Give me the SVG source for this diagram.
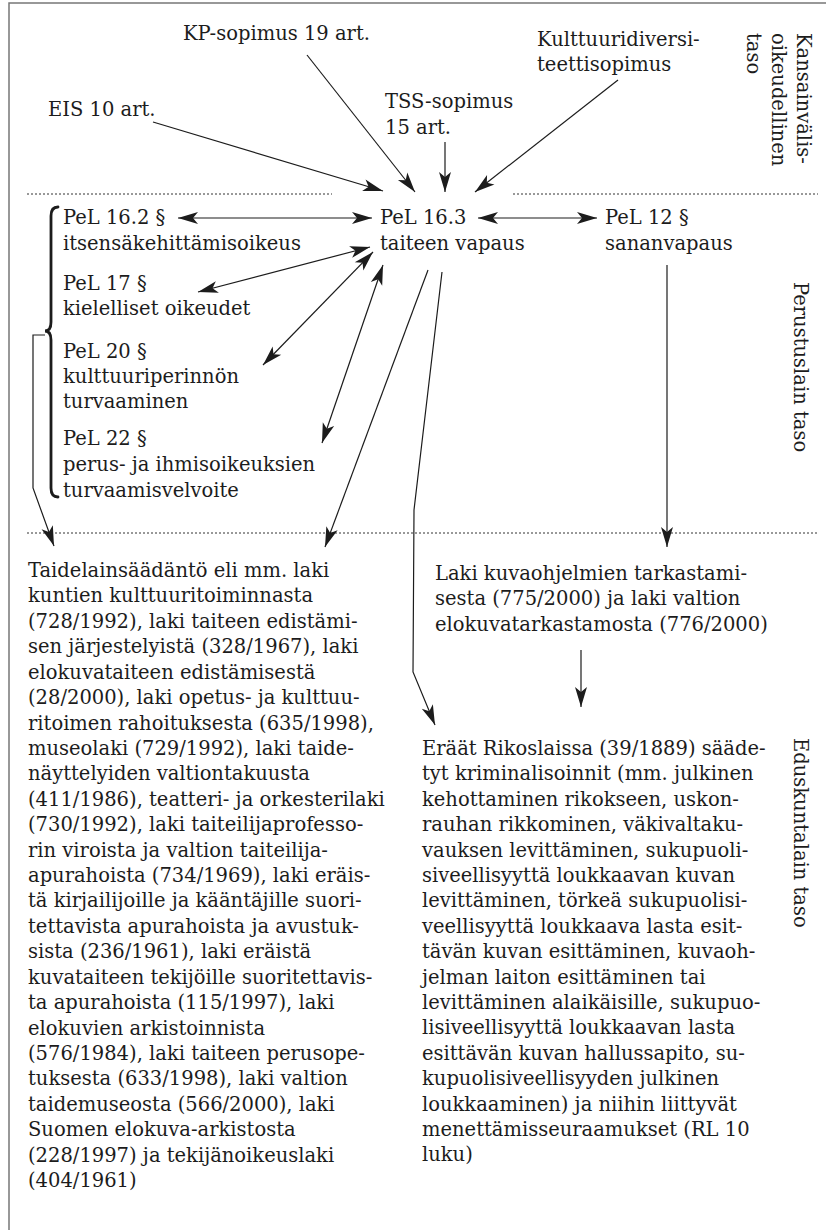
<svg xmlns="http://www.w3.org/2000/svg" width="826" height="1230" viewBox="0 0 826 1230">
<style>
  text { font-family: "DejaVu Serif", "Liberation Serif", serif; font-size: 19.5px; fill: #1c1c1c; }
  .ln { fill: none; stroke: #1c1c1c; stroke-width: 1.2; }
  .dot { fill: none; stroke: #333; stroke-width: 1; stroke-dasharray: 2 2; }
  .frame { fill: none; stroke: #777; stroke-width: 1.5; }
  .brace { fill: none; stroke: #1c1c1c; stroke-width: 2.8; stroke-linecap: round; }
</style>
<defs>
  <marker id="ah" viewBox="-1 -7 22 14" markerWidth="22" markerHeight="14" refX="20" refY="0" orient="auto-start-reverse" markerUnits="userSpaceOnUse">
    <path d="M0,-6 L20,0 L0,6 L5,0 z" fill="#1c1c1c"/>
  </marker>
</defs>
<rect width="826" height="1230" fill="#fff"/>
<path class="frame" d="M9,1230 L9,3 L826,3"/>

<g id="levels">
  <path class="dot" d="M27,194 L332,194 M513,194 L818,194"/>
  <path class="dot" d="M27,533 L818,533"/>
  <text transform="translate(797,33) rotate(90)">Kansainvälis-</text>
  <text transform="translate(772,33) rotate(90)">oikeudellinen</text>
  <text transform="translate(747,33) rotate(90)">taso</text>
  <text transform="translate(794,282) rotate(90)">Perustuslain taso</text>
  <text transform="translate(794,738) rotate(90)">Eduskuntalain taso</text>
</g>

<g id="n-kp"><text x="183" y="40">KP-sopimus 19 art.</text></g>
<g id="n-kd"><text x="537" y="46">Kulttuuridiversi-</text><text x="537" y="71">teettisopimus</text></g>
<g id="n-eis"><text x="48" y="116">EIS 10 art.</text></g>
<g id="n-tss"><text x="385" y="108">TSS-sopimus</text><text x="385" y="134">15 art.</text></g>

<g id="n-pel163"><text x="380" y="224">PeL 16.3</text><text x="380" y="250">taiteen vapaus</text></g>
<g id="n-pel12"><text x="605" y="224">PeL 12 §</text><text x="605" y="250">sananvapaus</text></g>
<g id="n-pel162"><text x="63" y="224">PeL 16.2 §</text><text x="63" y="250">itsensäkehittämisoikeus</text></g>
<g id="n-pel17"><text x="63" y="290">PeL 17 §</text><text x="63" y="315">kielelliset oikeudet</text></g>
<g id="n-pel20"><text x="63" y="358">PeL 20 §</text><text x="63" y="383">kulttuuriperinnön</text><text x="63" y="408">turvaaminen</text></g>
<g id="n-pel22"><text x="63" y="445">PeL 22 §</text><text x="63" y="471">perus- ja ihmisoikeuksien</text><text x="63" y="497">turvaamisvelvoite</text></g>
<g id="brace"><path class="brace" d="M58,207 Q51,207 51,216 L51,322 Q51,331 45,331 Q51,331 51,340 L51,488 Q51,497 58,497"/></g>

<g id="n-taide">
  <text x="28" y="577">Taidelainsäädäntö eli mm. laki</text>
  <text x="28" y="602.4">kuntien kulttuuritoiminnasta</text>
  <text x="28" y="627.8">(728/1992), laki taiteen edistämi-</text>
  <text x="28" y="653.3">sen järjestelyistä (328/1967), laki</text>
  <text x="28" y="678.7">elokuvataiteen edistämisestä</text>
  <text x="28" y="704.1">(28/2000), laki opetus- ja kulttuu-</text>
  <text x="28" y="729.5">ritoimen rahoituksesta (635/1998),</text>
  <text x="28" y="754.9">museolaki (729/1992), laki taide-</text>
  <text x="28" y="780.3">näyttelyiden valtiontakuusta</text>
  <text x="28" y="805.8">(411/1986), teatteri- ja orkesterilaki</text>
  <text x="28" y="831.2">(730/1992), laki taiteilijaprofesso-</text>
  <text x="28" y="856.6">rin viroista ja valtion taiteilija-</text>
  <text x="28" y="882">apurahoista (734/1969), laki eräis-</text>
  <text x="28" y="907.4">tä kirjailijoille ja kääntäjille suori-</text>
  <text x="28" y="932.8">tettavista apurahoista ja avustuk-</text>
  <text x="28" y="958.3">sista (236/1961), laki eräistä</text>
  <text x="28" y="983.7">kuvataiteen tekijöille suoritettavis-</text>
  <text x="28" y="1009.1">ta apurahoista (115/1997), laki</text>
  <text x="28" y="1034.5">elokuvien arkistoinnista</text>
  <text x="28" y="1059.9">(576/1984), laki taiteen perusope-</text>
  <text x="28" y="1085.3">tuksesta (633/1998), laki valtion</text>
  <text x="28" y="1110.8">taidemuseosta (566/2000), laki</text>
  <text x="28" y="1136.2">Suomen elokuva-arkistosta</text>
  <text x="28" y="1161.6">(228/1997) ja tekijänoikeuslaki</text>
  <text x="28" y="1187">(404/1961)</text>
</g>

<g id="n-laki">
  <text x="435" y="580">Laki kuvaohjelmien tarkastami-</text>
  <text x="435" y="605.4">sesta (775/2000) ja laki valtion</text>
  <text x="435" y="630.8">elokuvatarkastamosta (776/2000)</text>
</g>

<g id="n-rikos">
  <text x="422" y="755">Eräät Rikoslaissa (39/1889) sääde-</text>
  <text x="422" y="780.4">tyt kriminalisoinnit (mm. julkinen</text>
  <text x="422" y="805.8">kehottaminen rikokseen, uskon-</text>
  <text x="422" y="831.2">rauhan rikkominen, väkivaltaku-</text>
  <text x="422" y="856.6">vauksen levittäminen, sukupuoli-</text>
  <text x="422" y="882">siveellisyyttä loukkaavan kuvan</text>
  <text x="422" y="907.4">levittäminen, törkeä sukupuolisi-</text>
  <text x="422" y="932.8">veellisyyttä loukkaava lasta esit-</text>
  <text x="422" y="958.2">tävän kuvan esittäminen, kuvaoh-</text>
  <text x="422" y="983.6">jelman laiton esittäminen tai</text>
  <text x="422" y="1009">levittäminen alaikäisille, sukupuo-</text>
  <text x="422" y="1034.4">lisiveellisyyttä loukkaavan lasta</text>
  <text x="422" y="1059.8">esittävän kuvan hallussapito, su-</text>
  <text x="422" y="1085.2">kupuolisiveellisyyden julkinen</text>
  <text x="422" y="1110.6">loukkaaminen) ja niihin liittyvät</text>
  <text x="422" y="1136">menettämisseuraamukset (RL 10</text>
  <text x="422" y="1161.4">luku)</text>
</g>

<g id="connectors">
  <path class="ln" marker-end="url(#ah)" d="M153,122 L383,191"/>
  <path class="ln" marker-end="url(#ah)" d="M307,55 L415,192"/>
  <path class="ln" marker-end="url(#ah)" d="M445,142 L445,192"/>
  <path class="ln" marker-end="url(#ah)" d="M618,80 L475,192"/>
  <path class="ln" marker-start="url(#ah)" marker-end="url(#ah)" d="M178,218 L372,218"/>
  <path class="ln" marker-start="url(#ah)" marker-end="url(#ah)" d="M478,218 L597,218"/>
  <path class="ln" marker-start="url(#ah)" marker-end="url(#ah)" d="M370,247 L198,292"/>
  <path class="ln" marker-start="url(#ah)" marker-end="url(#ah)" d="M373,252 L263,365"/>
  <path class="ln" marker-start="url(#ah)" marker-end="url(#ah)" d="M383,265 L322,443"/>
  <path class="ln" marker-end="url(#ah)" d="M428,270 L325,547"/>
  <path class="ln" marker-end="url(#ah)" d="M442,272 L414,510 L413,672 L435,725"/>
  <path class="ln" marker-end="url(#ah)" d="M667,265 L667,547"/>
  <path class="ln" marker-end="url(#ah)" d="M581,650 L581,707"/>
  <path class="ln" marker-end="url(#ah)" d="M45,335 L33,335 L33,488 L54,546"/>
</g>
</svg>
